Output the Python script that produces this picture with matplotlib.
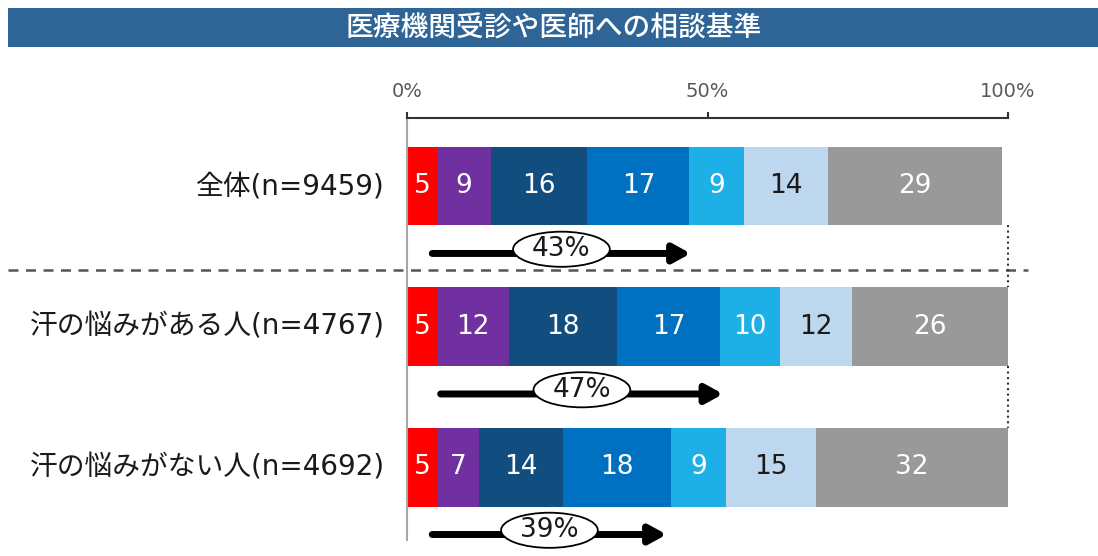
import matplotlib.pyplot as plt
from matplotlib.patches import Ellipse, Rectangle

plt.rcParams['font.family'] = ['Noto Sans CJK JP', 'DejaVu Sans']

title = '医療機関受診や医師への相談基準'
groups = ['全体(n=9459)', '汗の悩みがある人(n=4767)', '汗の悩みがない人(n=4692)']
segments = [
    [5, 9, 16, 17, 9, 14, 29],
    [5, 12, 18, 17, 10, 12, 26],
    [5, 7, 14, 18, 9, 15, 32],
]
seg_colors = ['#FF0000', '#7030A0', '#124D80', '#0070C0', '#1CB0E6', '#BDD7EE', '#999999']
text_colors = ['white', 'white', 'white', 'white', 'white', '#1A1A1A', 'white']
summary_pct = [43, 47, 39]
arrow_start = [4.2, 5.6, 4.2]
xticks = [0, 50, 100]
xticklabels = ['0%', '50%', '100%']

latin = ['DejaVu Sans', 'Noto Sans CJK JP']

fig = plt.figure(figsize=(10.98, 5.56), dpi=100)

# title bar
fig.patches.append(Rectangle((8 / 1098, 1 - 47 / 556), 1 - 8 / 1098, 39 / 556,
                             transform=fig.transFigure, facecolor='#2F6497',
                             edgecolor='none', zorder=0))
fig.text(554 / 1098, 1 - 28 / 556, title, color='white', fontsize=20,
         fontweight='medium', ha='center', va='center')

ax = fig.add_axes([407 / 1098, 0, 601 / 1098, 438 / 556])
ax.set_xlim(0, 100)
ax.set_ylim(2.633, -0.484)
ax.patch.set_alpha(0)

bar_h = 0.562
for i, vals in enumerate(segments):
    left = 0
    for j, v in enumerate(vals):
        ax.barh(i, v, left=left, height=bar_h, color=seg_colors[j], edgecolor='none')
        ax.text(left + v / 2, i, str(v), ha='center', va='center', fontsize=19,
                color=text_colors[j], family=latin)
        left += v
    ax.text(-3.7, i, groups[i], ha='right', va='center', fontsize=20,
            color='#1A1A1A', family=latin, clip_on=False)

    # arrow with the summed share in an ellipse
    ya = i + 0.48
    x0 = arrow_start[i]
    ax.annotate('', xy=(x0 + summary_pct[i], ya), xytext=(x0, ya),
                arrowprops=dict(arrowstyle='-|>,head_length=1.0,head_width=0.55',
                                lw=5, color='black', shrinkA=0, shrinkB=0),
                annotation_clip=False)
    ex = x0 + summary_pct[i] / 2
    ax.add_patch(Ellipse((ex, ya - 0.03), 16.1, 0.25, facecolor='white',
                         edgecolor='black', lw=1.3, zorder=5, clip_on=False))
    ax.text(ex, ya - 0.03, f'{summary_pct[i]}%', ha='center', va='center',
            fontsize=19, color='#1A1A1A', family=latin, zorder=6)

# dashed separator between total and the subgroups
ax.plot([-66.4, 103.3], [0.598, 0.598], ls=(0, (4, 3)), color='#555555', lw=1.8,
        clip_on=False)

# dotted 100% guides in the gaps
for y0, y1 in [(0.281, 0.719), (1.281, 1.719)]:
    ax.plot([100, 100], [y0, y1], ls=':', color='#333333', lw=1.5, clip_on=False)

ax.xaxis.tick_top()
ax.set_xticks(xticks)
ax.set_xticklabels(xticklabels, family='DejaVu Sans', fontsize=14, color='#595959')
ax.tick_params(axis='x', length=4, width=1.5, color='#333333', pad=8)
ax.set_yticks([])
for s in ['bottom', 'right']:
    ax.spines[s].set_visible(False)
ax.spines['top'].set_color('#333333')
ax.spines['top'].set_linewidth(1.5)
ax.spines['left'].set_color('#A6A6A6')
ax.spines['left'].set_linewidth(1.5)
ax.spines['left'].set_bounds(2.52, -0.484)

fig.savefig('out.png', dpi=100)
